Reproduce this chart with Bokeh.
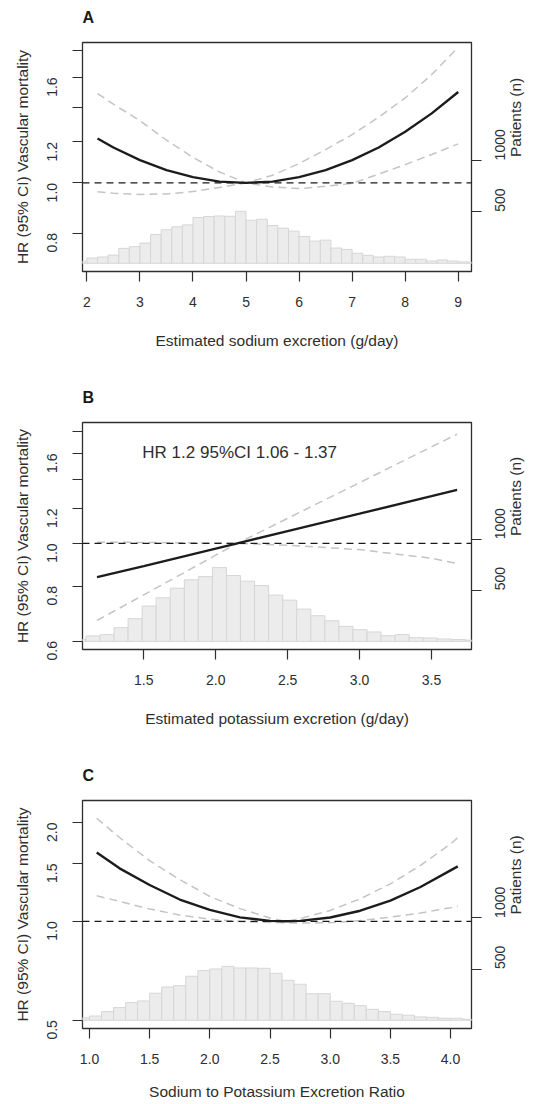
from math import pi
from bokeh.plotting import figure
from bokeh.models import (Range1d, LinearScale, LinearAxis, FixedTicker, Span, Label,
                          PrintfTickFormatter)
from bokeh.layouts import column
from bokeh.embed import file_html
from bokeh.resources import INLINE

# ---------------- data ----------------
# Panel A: estimated sodium excretion (g/day)
a_x  = [2.2, 2.5, 3.0, 3.5, 4.0, 4.5, 5.0, 5.5, 6.0, 6.5, 7.0, 7.5, 8.0, 8.5, 9.0]
a_hr = [1.219, 1.171, 1.107, 1.059, 1.026, 1.006, 1.0, 1.006, 1.026, 1.059, 1.107, 1.171, 1.256, 1.363, 1.499]
a_lo = [0.961, 0.955, 0.950, 0.952, 0.962, 0.980, 1.0, 0.982, 0.975, 0.985, 0.998, 1.040, 1.085, 1.135, 1.190]
a_hi = [1.489, 1.420, 1.320, 1.210, 1.120, 1.050, 1.0, 1.035, 1.090, 1.160, 1.240, 1.340, 1.460, 1.620, 1.830]
a_edges = [1.8, 2.0, 2.2, 2.4, 2.6, 2.8, 3.0, 3.2, 3.4, 3.6, 3.8, 4.0, 4.2, 4.4, 4.6, 4.8, 5.0,
           5.2, 5.4, 5.6, 5.8, 6.0, 6.2, 6.4, 6.6, 6.8, 7.0, 7.2, 7.4, 7.6, 7.8, 8.0, 8.2, 8.4,
           8.6, 8.8, 9.0, 9.2, 9.4]
a_counts = [19, 51, 61, 80, 145, 161, 196, 280, 325, 354, 373, 444, 454, 460, 457, 505, 418,
            428, 367, 341, 312, 261, 215, 225, 148, 135, 97, 77, 61, 68, 61, 39, 39, 22, 32,
            22, 13, 10]
a_xticks = [2, 3, 4, 5, 6, 7, 8, 9]
a_yticks = [0.8, 1.0, 1.2, 1.6]
a_yminor = [1.4, 1.8]

# Panel B: estimated potassium excretion (g/day)
b_x  = [1.175, 1.5, 2.0, 2.15, 2.5, 3.0, 3.5, 3.678]
b_hr = [0.838, 0.888, 0.973, 1.0, 1.066, 1.168, 1.280, 1.323]
b_lo = [1.006, 1.005, 1.002, 1.0, 0.990, 0.968, 0.925, 0.900]
b_hi = [0.668, 0.764, 0.940, 1.0, 1.140, 1.374, 1.657, 1.770]
b_edges = [1.000, 1.098, 1.195, 1.293, 1.391, 1.489, 1.586, 1.684, 1.782, 1.879, 1.977,
           2.075, 2.172, 2.270, 2.368, 2.466, 2.563, 2.661, 2.759, 2.856, 2.954, 3.052,
           3.149, 3.247, 3.345, 3.443, 3.540, 3.638, 3.736, 3.833]
b_counts = [20, 53, 65, 134, 222, 346, 427, 521, 603, 635, 723, 645, 590, 547, 453, 404,
            316, 251, 202, 147, 114, 92, 56, 65, 36, 33, 23, 17, 12]
b_xticks = [1.5, 2.0, 2.5, 3.0, 3.5]
b_yticks = [0.6, 0.8, 1.0, 1.2, 1.6]
b_yminor = [1.4, 1.8]
b_note = "HR 1.2 95%CI 1.06 - 1.37"

# Panel C: sodium to potassium excretion ratio
c_x  = [1.06, 1.25, 1.5, 1.75, 2.0, 2.25, 2.5, 2.63, 2.75, 3.0, 3.25, 3.5, 3.75, 4.0, 4.06]
c_hr = [1.62, 1.45, 1.29, 1.165, 1.083, 1.028, 1.003, 1.0, 1.003, 1.027, 1.077, 1.156, 1.272, 1.43, 1.47]
c_lo = [1.196, 1.15, 1.09, 1.045, 1.015, 0.998, 0.992, 0.99, 0.988, 0.99, 1.005, 1.03, 1.06, 1.10, 1.113]
c_hi = [2.06, 1.80, 1.53, 1.34, 1.19, 1.093, 1.024, 1.0, 1.019, 1.079, 1.171, 1.30, 1.48, 1.72, 1.80]
c_edges = [0.9, 1.0, 1.1, 1.2, 1.3, 1.4, 1.5, 1.6, 1.7, 1.8, 1.9, 2.0, 2.1, 2.2, 2.3, 2.4,
           2.5, 2.6, 2.7, 2.8, 2.9, 3.0, 3.1, 3.2, 3.3, 3.4, 3.5, 3.6, 3.7, 3.8, 3.9, 4.0,
           4.1, 4.2]
c_counts = [25, 42, 85, 124, 172, 189, 264, 325, 338, 430, 485, 501, 527, 511, 511, 508,
            459, 391, 352, 260, 260, 186, 166, 143, 107, 85, 59, 49, 33, 29, 20, 20, 10]
c_xticks = [1.0, 1.5, 2.0, 2.5, 3.0, 3.5, 4.0]
c_yticks = [0.5, 1.0, 1.5, 2.0]
c_yminor = []

n_ticks = [500, 1000]

# ---------------- styling ----------------
FONT = "Liberation Sans"
TXT = "#2e2e2e"
AX = "#2e2e2e"
W = 535
LEFT, RIGHT = 82, 63
N_RANGE = (-80, 2146)


def style_axis(ax, tick_len=10, standoff=12, label_standoff=20):
    ax.axis_line_color = None
    ax.major_tick_line_color = AX
    ax.major_tick_line_width = 1.2
    ax.major_tick_out = tick_len
    ax.major_tick_in = 0
    ax.minor_tick_line_color = AX
    ax.minor_tick_line_width = 1.2
    ax.minor_tick_out = tick_len
    ax.minor_tick_in = 0
    ax.major_label_text_font = FONT
    ax.major_label_text_font_size = "14px"
    ax.major_label_text_color = TXT
    ax.major_label_standoff = standoff
    ax.axis_label_text_font = FONT
    ax.axis_label_text_font_size = "15.5px"
    ax.axis_label_text_font_style = "normal"
    ax.axis_label_text_color = TXT
    ax.axis_label_standoff = label_standoff


def panel(letter, cx, hr, lo, hi, edges, counts, xr, yr, xticks, xfmt, yticks, yminor,
          xlabel, height, top, frame_h, xlab_standoff=22, note=None, note_xy=None):
    bottom = height - top - frame_h
    p = figure(width=W, height=height, x_range=Range1d(*xr), y_range=Range1d(*yr),
               y_axis_type="log", output_backend="svg", toolbar_location=None,
               min_border_left=LEFT, min_border_right=RIGHT, min_border_top=top,
               min_border_bottom=bottom)
    p.xgrid.grid_line_color = None
    p.ygrid.grid_line_color = None
    p.outline_line_color = AX
    p.outline_line_width = 1.3
    p.background_fill_color = "white"
    p.border_fill_color = "white"

    # panel letter as the plot title (a blank second line lifts it off the frame)
    p.title.text = letter + "\n "
    p.title.align = "left"
    p.title.vertical_align = "bottom"
    p.title.offset = 0
    p.title.standoff = 0
    p.title.text_font = FONT
    p.title.text_font_size = "16px"
    p.title.text_font_style = "bold"
    p.title.text_color = "#1a1a1a"

    p.extra_y_ranges = {"n": Range1d(*N_RANGE)}
    p.extra_y_scales = {"n": LinearScale()}

    p.quad(left=edges[:-1], right=edges[1:], bottom=0, top=counts, y_range_name="n",
           fill_color="#ececec", line_color="#d6d6d6", line_width=1)

    p.line(cx, lo, line_color="#c4c4c4", line_width=1.5, line_dash="8 5")
    p.line(cx, hi, line_color="#c4c4c4", line_width=1.5, line_dash="8 5")
    p.add_layout(Span(location=1.0, dimension="width", line_color="#1a1a1a",
                      line_width=1.2, line_dash="7 5"))
    p.line(cx, hr, line_color="#1c1c1c", line_width=2.4)

    # axes
    p.xaxis.ticker = FixedTicker(ticks=xticks)
    p.xaxis.formatter = PrintfTickFormatter(format=xfmt)
    p.xaxis.axis_label = xlabel
    style_axis(p.xaxis[0], standoff=15, label_standoff=xlab_standoff)

    p.yaxis.ticker = FixedTicker(ticks=yticks, minor_ticks=yminor)
    p.yaxis.formatter = PrintfTickFormatter(format="%.1f")
    p.yaxis.axis_label = "HR (95% CI) Vascular mortality"
    p.yaxis.major_label_orientation = pi / 2
    style_axis(p.yaxis[0], standoff=20, label_standoff=9)

    rax = LinearAxis(y_range_name="n", ticker=FixedTicker(ticks=n_ticks),
                     formatter=PrintfTickFormatter(format="%d"),
                     axis_label="Patients (n)")
    rax.major_label_orientation = pi / 2
    style_axis(rax, standoff=19, label_standoff=2)
    try:
        rax.axis_label_orientation = pi / 2
    except Exception:
        pass
    p.add_layout(rax, "right")

    if note:
        p.add_layout(Label(x=note_xy[0], y=note_xy[1], text=note, text_font=FONT,
                           text_font_size="17px", text_color=TXT, text_align="left",
                           text_baseline="middle"))
    return p


pa = panel("A", a_x, a_hr, a_lo, a_hi, a_edges, a_counts, (1.917, 9.25), (0.674, 1.869),
           a_xticks, "%d", a_yticks, a_yminor, "Estimated sodium excretion (g/day)",
           379, 42, 229)
pb = panel("B", b_x, b_hr, b_lo, b_hi, b_edges, b_counts, (1.074, 3.778), (0.574, 1.882),
           b_xticks, "%.1f", b_yticks, b_yminor, "Estimated potassium excretion (g/day)",
           379, 43, 227, note=b_note, note_xy=(1.49, 1.61))
pc = panel("C", c_x, c_hr, c_lo, c_hi, c_edges, c_counts, (0.942, 4.174), (0.4714, 2.334),
           c_xticks, "%.1f", c_yticks, c_yminor, "Sodium to Potassium Excretion Ratio",
           346, 42, 228, xlab_standoff=16)

layout = column(pa, pb, pc, spacing=0)
open("out.html", "w").write(file_html(layout, INLINE))
